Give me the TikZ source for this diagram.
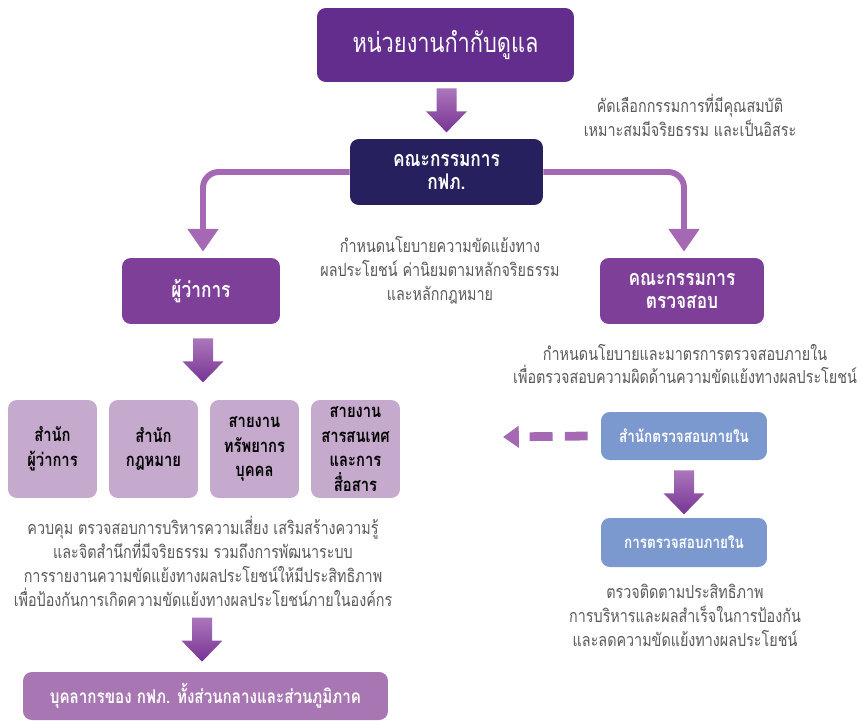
\documentclass[tikz,border=0pt]{standalone}
\usepackage{fontspec}
\setmainfont[Script=Thai,FakeStretch=0.8]{Loma}
\usetikzlibrary{arrows.meta,calc}

\definecolor{regpurple}{RGB}{98,45,140}
\definecolor{kfpnavy}{RGB}{38,33,94}
\definecolor{midpurple}{RGB}{125,63,152}
\definecolor{unitmauve}{RGB}{197,170,205}
\definecolor{staffpurple}{RGB}{168,119,179}
\definecolor{auditblue}{RGB}{123,152,207}
\definecolor{notegray}{RGB}{89,89,89}
\definecolor{linkpurple}{RGB}{165,105,180}
\definecolor{arrowtop}{RGB}{172,118,186}
\definecolor{arrowbot}{RGB}{118,52,148}

\tikzset{
  box/.style={rounded corners=5pt, align=center, text=white, inner sep=0pt,
    font=\bfseries\fontsize{12.3}{13.6}\selectfont},
  unitbox/.style={box, fill=unitmauve, text=black, minimum width=1.78cm,
    minimum height=1.96cm, font=\bfseries\fontsize{10.5}{14}\selectfont},
  note/.style={align=center, text=notegray, inner sep=0pt,
    font=\fontsize{10.2}{13.6}\selectfont},
  link/.style={line width=3.4pt, draw=linkpurple, rounded corners=9pt,
    -{Triangle[width=17pt,length=13pt]}},
  dashlink/.style={line width=5pt, draw=linkpurple, dash pattern=on 13pt off 7pt,
    -{Triangle[width=12pt,length=9pt]}}
}

% block arrow, top centre given
\newcommand{\blockarrow}[1]{%
  \shade[top color=arrowtop,bottom color=arrowbot] #1 ++(-10,0) -- ++(20,0)
    -- ++(0,23) -- ++(10.5,0) -- ++(-20.5,21) -- ++(-20.5,-21) -- ++(10.5,0) -- cycle;}

\begin{document}
\begin{tikzpicture}[x=0.02cm,y=-0.02cm]
		\useasboundingbox (0,0) rectangle (861,720);

		\node[box, fill=regpurple, minimum width=5.14cm, minimum height=1.48cm,
		  font=\fontsize{15.5}{19}\selectfont] (reg) at (445.5,45) {หน่วยงานกำกับดูแล};
		\node[box, fill=kfpnavy, minimum width=3.86cm, minimum height=1.32cm] (kfp) at (446.5,172) {คณะกรรมการ\\กฟภ.};
		\node[box, fill=midpurple, minimum width=3.16cm, minimum height=1.32cm] (gov) at (201,291) {ผู้ว่าการ};
		\node[box, fill=midpurple, minimum width=3.28cm, minimum height=1.32cm] (audcom) at (682,291) {คณะกรรมการ\\ตรวจสอบ};

		\node[unitbox] (unit1) at (52.5,449) {สำนัก\\ผู้ว่าการ};
		\node[unitbox] (unit2) at (153.5,449) {สำนัก\\กฎหมาย};
		\node[unitbox] (unit3) at (254.5,449) {สายงาน\\ทรัพยากร\\บุคคล};
		\node[unitbox] (unit4) at (355.5,449) {สายงาน\\สารสนเทศ\\และการ\\สื่อสาร};

		\node[box, fill=staffpurple, minimum width=7.3cm, minimum height=0.96cm,
		  font=\bfseries\fontsize{10.8}{13}\selectfont] (staff) at (205.5,696) {บุคลากรของ กฟภ. ทั้งส่วนกลางและส่วนภูมิภาค};
		\node[box, fill=auditblue, minimum width=3.32cm, minimum height=0.96cm,
		  font=\bfseries\fontsize{9.6}{13}\selectfont] (iao) at (684,436) {สำนักตรวจสอบภายใน};
		\node[box, fill=auditblue, minimum width=3.32cm, minimum height=0.98cm,
		  font=\bfseries\fontsize{9.6}{13}\selectfont] (ia) at (684,542.5) {การตรวจสอบภายใน};

		\node[note] (selnote) at (690,115) {คัดเลือกกรรมการที่มีคุณสมบัติ\\เหมาะสมมีจริยธรรม และเป็นอิสระ};
		\node[note] (polnote) at (440,270) {กำหนดนโยบายความขัดแย้งทาง\\ผลประโยชน์ ค่านิยมตามหลักจริยธรรม\\และหลักกฎหมาย};
		\node[note] (audnote) at (685,364) {กำหนดนโยบายและมาตรการตรวจสอบภายใน\\เพื่อตรวจสอบความผิดด้านความขัดแย้งทางผลประโยชน์};
		\node[note] (ctrlnote) at (203,561) {ควบคุม ตรวจสอบการบริหารความเสี่ยง เสริมสร้างความรู้\\และจิตสำนึกที่มีจริยธรรม รวมถึงการพัฒนาระบบ\\การรายงานความขัดแย้งทางผลประโยชน์ให้มีประสิทธิภาพ\\เพื่อป้องกันการเกิดความขัดแย้งทางผลประโยชน์ภายในองค์กร};
		\node[note] (monnote) at (685,615) {ตรวจติดตามประสิทธิภาพ\\การบริหารและผลสำเร็จในการป้องกัน\\และลดความขัดแย้งทางผลประโยชน์};

		\blockarrow{($(reg.south)+(1,6)$)}
		\blockarrow{($(gov.south)+(2,14)$)}
		\blockarrow{($(staff.north)+(-3.5,-54)$)}
		\blockarrow{($(iao.south)+(0,10)$)}

		\draw[link] (kfp.west) -| ($(gov.north)+(2,-6)$);
		\draw[link] (kfp.east) -| ($(audcom.north)+(2,-6)$);

		\coordinate (dashend) at (503,437);
		\draw[dashlink] ($(iao.west)+(-13,0)$) -- (dashend);
\end{tikzpicture}
\end{document}
